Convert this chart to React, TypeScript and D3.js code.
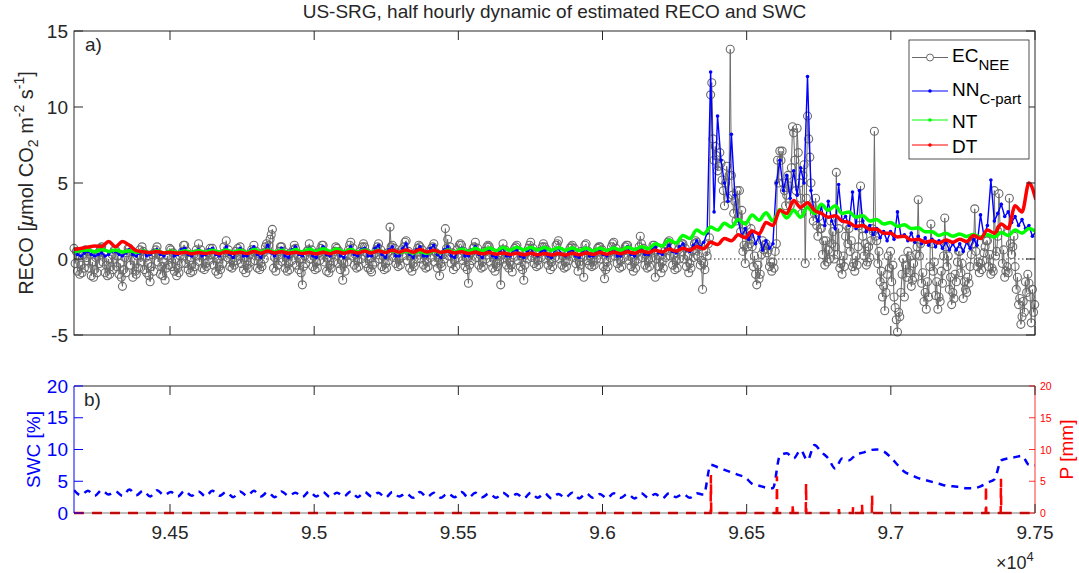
import React from 'react';
import * as d3 from 'd3';

// ---------------------------------------------------------------------------
// Time axis: half-hour record index
const T_START = 94167;
const T_END = 97500;
const EC_STEP = 4;   // EC samples every 4 half-hours
const NN_STEP = 12;  // NN samples every 12 half-hours
const DAY_STEP = 24; // NT, DT and SWC every 24 half-hours

const TIME_TICKS = [94500, 95000, 95500, 96000, 96500, 97000, 97500];
const TIME_TICK_LABELS = ['9.45', '9.5', '9.55', '9.6', '9.65', '9.7', '9.75'];
const RECO_TICKS = [-5, 0, 5, 10, 15];
const SWC_TICKS = [0, 5, 10, 15, 20];
const P_TICKS = [0, 5, 10, 15, 20];

// EC-derived RECO (umol CO2 m-2 s-1), twelve samples per day
const EC_NEE = [
  0.7, -0.3, 0.5, -0.8, 0.2, -1.0, -0.4, -0.9, 0.3, -0.6, 0.6, 0.1,
  0.5, -0.6, 0.3, -1.1, -0.2, -1.2, -0.7, 0.1, -0.9, 0.4, -0.3, 0.7,
  0.8, -0.2, 0.4, -0.9, -0.4, -1.1, 0.0, -1.0, -0.5, 0.3, -0.7, 0.6,
  0.6, -0.5, 0.2, -1.0, -0.3, -1.2, -1.8, -0.7, 0.1, -0.9, 0.4, 0.7,
  0.7, -0.4, 0.5, -1.2, -0.1, -0.8, -1.0, 0.2, -0.6, 0.6, -0.2, 0.8,
  0.5, -0.7, 0.1, -0.9, -0.3, -1.1, -1.5, -0.5, 0.3, -0.8, 0.4, 0.6,
  0.8, -0.2, 0.3, -1.0, -0.5, -1.1, -0.2, -1.4, -0.6, 0.2, -0.4, 0.7,
  0.6, -0.5, 0.4, -0.8, 0.0, -1.1, -0.6, -0.9, 0.2, -0.3, 0.5, 0.9,
  0.9, -0.3, 0.5, -0.7, -0.1, -0.9, -0.4, -0.8, 0.3, -0.5, 0.6, 0.2,
  1.0, -0.2, 0.6, -0.6, 0.2, -0.7, -0.3, -0.5, 0.4, -0.1, 0.7, 0.3,
  0.7, -0.4, 0.3, -0.8, 0.0, -1.0, -0.5, -0.7, 0.2, -0.3, 0.8, 0.4,
  1.2, 0.1, 0.6, -0.5, 0.3, -0.6, -0.2, -0.4, 0.5, -0.1, 0.7, 0.2,
  0.8, -0.3, 0.4, -0.7, 0.1, -0.9, -0.4, -0.6, 0.3, -0.2, 0.6, 0.5,
  0.9, -0.1, 0.5, -0.6, 0.2, -0.7, -0.3, -0.5, 0.4, 0.0, 0.8, 1.0,
  0.6, 0.9, 1.3, 1.6, 1.95, -0.6, 0.1, -0.8, 0.3, -0.4, 0.5, 0.8,
  0.8, -0.2, 0.5, -0.6, 0.1, -0.8, -0.3, -0.7, 0.4, -0.1, 0.6, 0.9,
  0.7, -0.4, 0.3, -0.7, 0.0, -0.9, -1.7, -0.5, 0.2, -0.3, 0.5, 0.6,
  1.0, 0.0, 0.6, -0.5, 0.2, -0.7, -0.2, -0.6, 0.4, -0.1, 0.7, 0.9,
  0.9, -0.2, 0.4, -0.8, 0.1, -0.9, -0.4, -0.6, 0.3, -0.2, 0.5, 0.8,
  0.7, -0.3, 0.5, -0.7, -0.1, -1.4, -0.3, -0.8, 0.2, -0.2, 0.6, 0.9,
  1.1, 0.2, 0.7, -0.4, 0.3, -0.6, -0.1, -0.5, 0.5, 0.0, 0.8, 1.0,
  0.8, -0.3, 0.4, -0.6, 0.0, -0.7, -0.85, -0.4, 0.3, -0.2, 0.6, 0.8,
  1.0, 0.0, 0.6, -0.5, 0.2, -0.7, -0.3, -0.6, 0.4, -0.1, 2.1, 0.8,
  0.9, 0.1, 0.7, -0.3, 0.4, -0.5, 0.0, -0.4, 0.6, 0.2, 0.8, 1.1,
  1.2, -0.1, 0.5, -0.6, 0.2, -0.8, -0.3, -0.5, 0.4, 0.0, 0.7, 0.9,
  0.8, 0.0, 0.6, -0.4, 0.3, -0.6, -0.2, -0.5, 0.5, 0.1, 0.7, 0.8,
  1.0, -0.2, 0.4, -0.6, 0.1, -1.1, -0.3, -0.5, 0.3, 0.0, 2.0, 0.7,
  1.3, 0.2, 0.8, -0.3, 0.4, -0.7, -0.1, -0.5, 0.6, 0.1, 0.9, 1.0,
  0.9, -0.1, 0.5, -0.5, 0.1, -0.7, -1.6, -0.4, 0.4, -0.1, 0.7, 0.8,
  1.1, 0.1, 0.7, -0.4, 0.3, -0.6, -0.2, -0.5, 0.5, 0.0, 0.8, 0.9,
  0.8, -0.2, 0.5, -0.6, 0.1, -0.8, -0.3, -0.5, 0.3, -0.1, -1.7, 0.6,
  1.0, 0.0, 0.6, -0.4, 0.2, -0.6, -0.2, -0.4, -0.85, 0.1, 0.7, 0.8,
  0.9, -0.1, 0.5, -0.5, 0.2, -0.7, -1.4, -0.4, 0.4, 0.0, 0.7, 0.9,
  1.1, 0.1, 0.7, -0.3, 0.3, -0.5, -0.1, -0.4, 0.5, 0.1, 0.8, 1.0,
  0.8, 0.0, 0.6, -0.4, 0.2, -0.7, -0.2, -0.5, 0.4, 0.1, 0.9, 1.0,
  1.2, 0.0, 0.5, -0.4, 0.2, -0.6, -0.2, -0.5, 0.3, -0.1, 0.7, 0.8,
  0.9, 0.1, 0.7, -0.3, 0.3, -0.8, -0.2, -0.4, 0.5, 0.1, -1.2, 0.9,
  1.0, -0.1, 0.5, -0.4, 0.2, -0.5, -0.2, -0.4, 0.4, 0.0, 0.7, 0.8,
  0.8, 0.0, 0.6, -0.5, -1.3, -0.7, -0.2, -0.5, 0.4, 0.1, 0.8, 1.0,
  1.1, 0.2, 0.7, -0.3, 0.3, -0.6, -0.1, -0.5, 0.5, 0.1, 0.8, 0.9,
  0.9, -0.1, 0.5, -0.5, 0.1, -0.8, -0.2, -0.6, 0.4, 0.0, 0.8, 1.5,
  1.0, 0.1, 0.7, -0.4, 0.3, -0.6, -0.1, -0.5, 0.5, 0.1, 0.9, 0.9,
  -1.2, 0.0, 0.6, -0.5, 0.2, -0.9, -0.2, -0.6, 0.5, 0.1, 0.9, 1.1,
  1.2, 0.2, 0.8, -0.4, 0.3, -0.7, -0.1, -0.6, 0.6, 0.0, 0.9, 1.0,
  1.0, 0.0, 0.7, -0.5, 0.2, -0.9, -0.3, -0.6, 0.5, 0.1, 1.0, 1.2,
  1.1, 0.2, 0.8, -0.4, -0.1, -2.0, -0.3, -0.7, 0.5, 0.2, 1.0, 1.4,
  10.8, 11.6, 7.9, 6.5, 7.4, 6.8, 5.8, 6.1, 7.0, 6.3, 5.2, 4.5,
  3.5, 5.0, 6.1, 4.0, 5.5, 13.8, 5.5, 4.2, 3.0, 3.8, 2.5, 4.5,
  2.8, 4.5, 1.8, 3.2, 0.5, 0.9, -0.3, 2.2, 0.8, 1.5, 1.0, 2.0,
  0.8, -0.5, 0.2, -1.0, -1.7, -0.4, -1.3, -1.0, 0.3, 1.2, 0.6, 0.9,
  1.0, 0.4, 0.6, -0.5, -0.2, -0.8, -0.2, -0.6, 0.5, 1.0, 6.5, 5.0,
  7.1, 6.5, 7.1, 5.0, 4.5, 3.5, 4.2, 5.5, 4.8, 3.5, 6.0, 8.7,
  8.3, 6.5, 4.5, 8.6, 7.0, 5.0, 4.0, 3.0, 5.5, 6.2, -0.3, 4.0,
  9.4, 7.9, 6.7, 5.0, 3.5, 2.5, 3.0, 4.0, 2.2, 1.5, 2.8, 2.0,
  2.0, 0.3, 1.2, -0.4, 1.2, -0.2, 0.6, 0.0, 2.5, 1.0, 1.8, 0.0,
  0.8, 5.7, 0.3, 2.0, -0.6, -0.3, -1.0, 0.2, -0.5, 1.5, 2.2, 1.0,
  2.0, 0.5, 1.2, -0.5, -0.3, -0.8, 0.2, -0.4, 0.8, 2.2, 4.8, 2.0,
  1.5, 0.2, 1.0, -0.4, -0.2, 0.8, 0.1, 1.2, 2.0, 1.8, 8.4, 1.5,
  1.2, -0.3, 0.5, -1.5, -0.8, -2.5, -1.8, -3.4, -2.2, -1.0, 0.2, -0.6,
  0.5, -1.5, -0.4, -2.5, -3.2, -4.0, -4.8, -3.5, -3.8, -2.2, -1.0, 0.0,
  -2.5, -0.4, -1.2, 0.5, -0.9, 0.2, -1.8, -1.4, -0.3, -1.2, 0.3, 0.8,
  3.9, 0.2, 1.0, -1.6, -0.9, -2.8, -2.2, -3.3, -1.5, -2.5, -0.5, 2.3,
  1.0, -0.8, -0.2, -2.4, -1.5, -3.3, -2.5, -2.8, -0.8, -1.6, 0.2, 2.7,
  0.8, -0.5, 0.2, -2.0, -1.2, -3.0, -2.2, -2.6, -1.0, -1.5, -0.2, 0.5,
  0.5, -0.9, -0.3, -2.6, -1.5, -2.0, -2.2, -1.2, -1.6, -0.5, 0.3, 1.0,
  1.0, 3.3, 0.5, -0.5, -0.2, -0.9, -0.3, -0.7, -0.1, 0.4, 0.8, 1.2,
  1.2, -0.5, 0.3, -1.0, -0.6, -0.8, 4.5, 0.2, 0.5, 1.5, 4.3, 2.0,
  2.0, -0.3, 0.6, -1.2, -0.8, -0.5, -0.9, 4.0, 1.0, 0.3, 0.8, 1.5,
  -0.5, -2.0, -1.2, -3.0, -2.6, -4.3, -3.8, -2.8, -3.5, -1.5, -2.2, -1.0,
  -1.6, -2.5, -4.2, -2.0, -3.5, -3.0, -2.8, -3.5, -2.0, -1.5, -1.0, -0.5,
];

// NN (C-partitioned) RECO, four samples per day
const NN_CPART = [
  0.5, 0.3, 0.2, 0.4, 0.5, 0.3, 0.2, 0.3, 0.4, 0.2, 0.3, 0.5,
  0.5, 0.3, 0.2, 0.4, 0.6, 0.3, 0.2, 0.4, 0.5, 0.2, 0.3, 0.5,
  0.6, 0.3, 0.2, 0.4, 0.5, 0.2, 0.3, 0.6, 0.7, 0.3, 0.2, 0.5,
  0.6, 0.2, 0.3, 0.6, 0.7, 0.3, 0.2, 0.5, 0.8, 0.3, 0.1, 0.5,
  0.7, 0.2, 0.2, 0.6, 0.8, 0.3, 0.1, 0.5, 0.9, 0.4, 0.2, 0.5,
  0.7, 0.2, 0.1, 0.6, 0.8, 0.3, 0.2, 0.5, 0.7, 0.2, 0.1, 0.6,
  0.8, 0.3, 0.2, 0.5, 0.6, 0.2, 0.1, 0.5, 0.8, 0.3, 0.2, 0.6,
  0.7, 0.2, 0.2, 0.7, 0.9, 0.3, 0.1, 0.6, 0.8, 0.2, 0.2, 0.7,
  1.0, 0.3, 0.1, 0.6, 0.8, 0.2, 0.2, 0.7, 0.9, 0.3, 0.1, 0.6,
  0.8, 0.2, 0.1, 0.5, 0.7, 0.2, 0.2, 0.6, 0.8, 0.3, 0.1, 0.5,
  0.6, 0.2, 0.1, 0.5, 0.7, 0.2, 0.2, 0.6, 0.6, 0.2, 0.1, 0.5,
  0.7, 0.3, 0.2, 0.5, 0.6, 0.2, 0.1, 0.6, 0.7, 0.3, 0.2, 0.5,
  0.6, 0.2, 0.1, 0.5, 0.7, 0.2, 0.2, 0.6, 0.6, 0.3, 0.2, 0.5,
  0.7, 0.2, 0.2, 0.6, 0.8, 0.3, 0.2, 0.6, 0.7, 0.3, 0.3, 0.7,
  0.8, 0.4, 0.3, 0.6, 0.9, 0.5, 0.4, 0.8, 1.0, 0.6, 0.5, 0.9,
  1.2, 0.8, 1.1, 1.7,
  12.3, 3.1, 9.4, 6.5, 5.0, 3.8, 8.2, 4.2, 2.5, 1.5, 2.0, 1.3,
  1.8, 1.0, 1.5, 0.6, 1.2, 0.7, 1.0, 5.0, 6.5, 4.5, 5.5, 4.0,
  5.8, 4.2, 6.0, 5.0, 12.0, 4.5, 3.0, 2.5, 3.5, 2.2, 3.8, 2.5,
  2.0, 4.9, 2.5, 2.8, 2.2, 4.4, 2.0, 4.5, 2.5, 1.8, 2.2, 1.6,
  2.0, 1.4, 1.8, 1.2, 1.8, 1.3, 3.1, 1.5, 1.6, 1.2, 1.7, 1.1,
  1.5, 1.0, 1.4, 0.9, 1.3, 0.8, 1.2, 0.7, 1.1, 0.6, 1.0, 0.6,
  1.0, 0.5, 1.1, 0.7, 1.3, 0.9, 2.9, 1.5, 2.2, 5.2, 2.5, 3.0,
  3.6, 2.8, 3.1, 2.4, 2.8, 2.2, 2.6, 2.0, 2.2, 1.5, 1.8, 1.6,
];

// Night-time (NT) partitioning, two samples per day
const NT = [
  0.45, 0.55, 0.60, 0.48, 0.62, 0.50, 0.60, 0.46, 0.55, 0.44,
  0.52, 0.42, 0.55, 0.40, 0.52, 0.42, 0.55, 0.44, 0.55, 0.45,
  0.58, 0.46, 0.60, 0.45, 0.58, 0.44, 0.62, 0.48, 0.60, 0.46,
  0.58, 0.44, 0.62, 0.47, 0.65, 0.50, 0.68, 0.50, 0.65, 0.48,
  0.62, 0.46, 0.60, 0.45, 0.58, 0.44, 0.55, 0.42, 0.52, 0.40,
  0.50, 0.38, 0.55, 0.40, 0.60, 0.45, 0.65, 0.50, 0.70, 0.52,
  0.72, 0.55, 0.75, 0.58, 0.78, 0.60, 0.76, 0.60, 0.75, 0.58,
  0.74, 0.58, 0.72, 0.56, 0.70, 0.55, 0.70, 0.56, 0.72, 0.58,
  0.78, 0.62, 0.80, 0.68, 1.00, 0.85, 1.25, 1.05, 1.55, 1.35,
  1.90, 1.65, 2.10, 1.90, 2.35, 2.10, 2.60, 2.30, 2.90, 2.55,
  3.05, 2.50, 3.25, 2.70, 3.20, 2.75, 3.40, 3.00, 3.60, 3.20,
  3.50, 3.00, 3.10, 2.75, 2.85, 2.50, 2.60, 2.30, 2.40, 2.15,
  2.25, 2.00, 2.05, 1.80, 1.80, 1.55, 1.70, 1.50, 1.65, 1.48,
  1.62, 1.45, 1.60, 1.45, 1.75, 1.55, 1.90, 1.70, 2.00, 1.80,
];

// Day-time (DT) partitioning, two samples per day
const DT = [
  0.62, 0.70, 0.78, 0.85, 0.82, 1.15, 0.80, 1.15, 0.90, 0.55,
  0.48, 0.42, 0.50, 0.40, 0.45, 0.38, 0.45, 0.35, 0.42, 0.36,
  0.45, 0.35, 0.48, 0.38, 0.45, 0.36, 0.50, 0.38, 0.52, 0.40,
  0.48, 0.38, 0.45, 0.36, 0.42, 0.34, 0.45, 0.35, 0.48, 0.38,
  0.50, 0.40, 0.52, 0.40, 0.55, 0.42, 0.58, 0.45, 0.60, 0.45,
  0.62, 0.46, 0.58, 0.44, 0.52, 0.40, 0.48, 0.36, 0.45, 0.34,
  0.42, 0.32, 0.40, 0.30, 0.38, 0.28, 0.38, 0.28, 0.36, 0.27,
  0.36, 0.27, 0.38, 0.28, 0.40, 0.30, 0.42, 0.32, 0.45, 0.35,
  0.48, 0.38, 0.52, 0.42, 0.58, 0.46, 0.65, 0.52, 0.70, 0.58,
  0.80, 0.68, 1.10, 0.95, 1.35, 1.20, 1.60, 1.40, 1.85, 1.65,
  2.40, 2.20, 3.20, 3.00, 3.85, 3.40, 3.70, 3.20, 3.00, 2.75,
  2.85, 2.50, 2.40, 2.15, 2.20, 1.95, 1.95, 1.70, 1.70, 1.45,
  1.50, 1.25, 1.30, 1.10, 1.20, 1.05, 1.25, 1.10, 1.30, 1.15,
  1.55, 1.35, 1.90, 1.70, 2.30, 2.00, 3.50, 3.10, 5.00, 3.90,
];

// Soil water content (%), two samples per day
const SWC = [
  3.6, 2.8, 3.5, 2.7, 3.6, 2.9, 3.4, 2.7, 3.7, 2.8,
  3.5, 2.6, 3.6, 2.8, 3.3, 2.6, 3.5, 2.7, 3.4, 2.6,
  3.5, 2.7, 3.3, 2.5, 3.4, 2.7, 3.5, 2.6, 3.3, 2.5,
  3.4, 2.7, 3.2, 2.5, 3.4, 2.6, 3.3, 2.5, 3.2, 2.6,
  3.4, 2.5, 3.3, 2.6, 3.2, 2.4, 3.3, 2.6, 3.1, 2.4,
  3.3, 2.5, 3.2, 2.4, 3.1, 2.5, 3.3, 2.4, 3.2, 2.5,
  3.1, 2.4, 3.2, 2.5, 3.0, 2.3, 3.2, 2.4, 3.1, 2.3,
  3.0, 2.4, 3.2, 2.3, 3.1, 2.4, 3.0, 2.3, 3.1, 2.4,
  3.0, 2.3, 3.1, 2.4, 3.0, 2.3, 3.1, 2.5, 3.0, 2.4,
  3.1, 2.9, 7.6, 7.2, 6.8, 6.4, 6.0, 5.6, 4.6, 4.3,
  4.0, 3.9, 9.0, 9.4, 8.6, 9.9, 8.3, 10.7, 9.6, 8.6,
  7.0, 8.6, 8.3, 9.2, 9.5, 9.9, 10.0, 9.7, 8.8, 7.6,
  6.5, 6.0, 5.5, 5.2, 4.9, 4.6, 4.3, 4.2, 4.1, 3.9,
  3.9, 4.2, 4.8, 5.3, 8.3, 8.6, 8.8, 9.0, 7.6, 7.5,
];

// Precipitation events (half-hour index, mm)
const P_TIME = [96376, 96605, 96660, 96706, 96820, 96869, 96900, 96935, 97330, 97382];
const P_MM = [6.0, 5.8, 1.5, 4.7, 0.6, 1.0, 1.5, 2.8, 4.4, 5.4];

// ---------------------------------------------------------------------------
const FONT = "'Liberation Sans', Arial, Helvetica, sans-serif";
const AXIS = '#262626';
const GRAY = '#6a6a6a';
const BLUE = '#0000ff';
const GREEN = '#00ff00';
const RED = '#ff0000';

type Pt = [number, number];
const toSeries = (vals: number[], step: number): Pt[] =>
  vals.map((v, i) => [T_START + i * step, v] as Pt);

export default function App() {
  const W = 1079;
  const H = 573;
  const L = 74;
  const R = 1035;
  const aTop = 31;
  const aBot = 335;
  const bTop = 386;
  const bBot = 513;
  const TICK = 9;

  const x = d3.scaleLinear().domain([T_START, T_END]).range([L, R]);
  const yA = d3.scaleLinear().domain([-5, 15]).range([aBot, aTop]);
  const yS = d3.scaleLinear().domain([0, 20]).range([bBot, bTop]);
  const yP = d3.scaleLinear().domain([0, 20]).range([bBot, bTop]);

  const ec = toSeries(EC_NEE, EC_STEP);
  const nn = toSeries(NN_CPART, NN_STEP);
  const nt = toSeries(NT, DAY_STEP);
  const dt = toSeries(DT, DAY_STEP);
  const swc = toSeries(SWC, DAY_STEP);

  // precipitation as a zero baseline with single half-hour pulses
  const pSeries: Pt[] = [[T_START, 0]];
  P_TIME.forEach((t, i) => {
    pSeries.push([t - 1, 0], [t, P_MM[i]], [t + 1, 0]);
  });
  pSeries.push([T_END, 0]);

  const inView = (d: Pt) => d[0] >= T_START && d[0] <= T_END;

  const lineA = d3.line<Pt>().x((d) => x(d[0])).y((d) => yA(d[1]));
  const smoothA = d3
    .line<Pt>()
    .x((d) => x(d[0]))
    .y((d) => yA(d[1]))
    .curve(d3.curveMonotoneX);
  const lineSWC = d3
    .line<Pt>()
    .x((d) => x(d[0]))
    .y((d) => yS(d[1]))
    .curve(d3.curveMonotoneX);
  const lineP = d3.line<Pt>().x((d) => x(d[0])).y((d) => yP(d[1]));

  const legendItems = [
    { main: 'EC', sub: 'NEE', color: GRAY, y: 57.5, base: 62, circle: true },
    { main: 'NN', sub: 'C-part', color: BLUE, y: 91, base: 96, circle: false },
    { main: 'NT', sub: '', color: GREEN, y: 120, base: 128, circle: false },
    { main: 'DT', sub: '', color: RED, y: 145, base: 153, circle: false },
  ];

  return (
    <svg
      width={W}
      height={H}
      viewBox={`0 0 ${W} ${H}`}
      style={{ position: 'absolute', left: 0, top: 0, background: '#fff' }}
      fontFamily={FONT}
    >
      <defs>
        <clipPath id="clipA">
          <rect x={L} y={aTop} width={R - L} height={aBot - aTop} />
        </clipPath>
        <clipPath id="clipB">
          <rect x={L} y={bTop - 2} width={R - L} height={bBot - bTop + 4} />
        </clipPath>
      </defs>
      <rect x={0} y={0} width={W} height={H} fill="#fff" />

      {/* title */}
      <text x={(L + R) / 2} y={18} textAnchor="middle" fontSize={19} fill={AXIS}>
        US-SRG, half hourly dynamic of estimated RECO and SWC
      </text>

      {/* ---------------- panel a ---------------- */}
      <line
        x1={L}
        x2={R}
        y1={yA(0)}
        y2={yA(0)}
        stroke="#333"
        strokeWidth={1}
        strokeDasharray="1.5,2.5"
      />
      <g clipPath="url(#clipA)">
        <path d={lineA(ec) || ''} fill="none" stroke={GRAY} strokeWidth={1} />
      </g>
      {ec.filter(inView).map((d, i) => (
        <circle
          key={`ec${i}`}
          cx={x(d[0])}
          cy={yA(d[1])}
          r={4}
          fill="none"
          stroke={GRAY}
          strokeWidth={1.1}
        />
      ))}
      <g clipPath="url(#clipA)">
        <path d={lineA(nn) || ''} fill="none" stroke={BLUE} strokeWidth={1.4} />
        {nn.filter(inView).map((d, i) => (
          <circle key={`nn${i}`} cx={x(d[0])} cy={yA(d[1])} r={1.8} fill={BLUE} />
        ))}
        <path d={smoothA(nt) || ''} fill="none" stroke={GREEN} strokeWidth={3.5} />
        <path d={smoothA(dt) || ''} fill="none" stroke={RED} strokeWidth={3.5} />
      </g>

      {/* axes of panel a */}
      <rect
        x={L}
        y={aTop}
        width={R - L}
        height={aBot - aTop}
        fill="none"
        stroke={AXIS}
        strokeWidth={1}
      />
      {RECO_TICKS.map((v) => (
        <g key={`ra${v}`}>
          <line x1={L} x2={L + TICK} y1={yA(v)} y2={yA(v)} stroke={AXIS} />
          <line x1={R - TICK} x2={R} y1={yA(v)} y2={yA(v)} stroke={AXIS} />
          <text
            x={L - 6}
            y={yA(v) + 6.5}
            textAnchor="end"
            fontSize={19}
            fill={AXIS}
          >
            {v}
          </text>
        </g>
      ))}
      {TIME_TICKS.map((t) => (
        <g key={`ta${t}`}>
          <line x1={x(t)} x2={x(t)} y1={aTop} y2={aTop + TICK} stroke={AXIS} />
          <line x1={x(t)} x2={x(t)} y1={aBot - TICK} y2={aBot} stroke={AXIS} />
        </g>
      ))}
      <text x={85} y={51} fontSize={19} fill={AXIS}>
        a)
      </text>
      <text
        transform={`translate(33,${(aTop + aBot) / 2}) rotate(-90)`}
        textAnchor="middle"
        fontSize={20}
        fill={AXIS}
      >
        RECO [<tspan fontStyle="italic">μ</tspan>mol CO
        <tspan fontSize={14} dy={5}>
          2
        </tspan>
        <tspan dy={-5}> m</tspan>
        <tspan fontSize={14} dy={-9}>
          -2
        </tspan>
        <tspan dy={9}> s</tspan>
        <tspan fontSize={14} dy={-9}>
          -1
        </tspan>
        <tspan dy={9}>]</tspan>
      </text>

      {/* legend */}
      <rect x={909} y={40} width={120} height={119} fill="#fff" stroke={AXIS} strokeWidth={0.8} />
      {legendItems.map((it) => (
        <g key={it.main}>
          <line x1={912} x2={948} y1={it.y} y2={it.y} stroke={it.color} strokeWidth={1} />
          {it.circle ? (
            <circle cx={930} cy={it.y} r={3.5} fill="#fff" stroke={it.color} strokeWidth={1} />
          ) : (
            <circle cx={930} cy={it.y} r={1.8} fill={it.color} />
          )}
          <text x={952} y={it.base} fontSize={19} fill="#000">
            {it.main}
            {it.sub ? (
              <tspan fontSize={15} dy={8}>
                {it.sub}
              </tspan>
            ) : null}
          </text>
        </g>
      ))}

      {/* ---------------- panel b ---------------- */}
      <g clipPath="url(#clipB)">
        <path
          d={lineSWC(swc) || ''}
          fill="none"
          stroke={BLUE}
          strokeWidth={2.5}
          strokeDasharray="7,6"
        />
        <path
          d={lineP(pSeries) || ''}
          fill="none"
          stroke={RED}
          strokeWidth={2.5}
          strokeDasharray="10,8"
        />
      </g>
      <line x1={L} x2={R} y1={bTop} y2={bTop} stroke={AXIS} />
      <line x1={L} x2={R} y1={bBot} y2={bBot} stroke={AXIS} strokeOpacity={0.6} />
      <line x1={L} x2={L} y1={bTop} y2={bBot} stroke={BLUE} />
      <line x1={R} x2={R} y1={bTop} y2={bBot} stroke={RED} strokeWidth={0.8} />
      {TIME_TICKS.map((t, i) => (
        <g key={`tb${t}`}>
          <line x1={x(t)} x2={x(t)} y1={bTop} y2={bTop + TICK} stroke={AXIS} />
          <line x1={x(t)} x2={x(t)} y1={bBot - TICK} y2={bBot} stroke={AXIS} />
          <text x={x(t)} y={539} textAnchor="middle" fontSize={19} fill={AXIS}>
            {TIME_TICK_LABELS[i]}
          </text>
        </g>
      ))}
      {SWC_TICKS.map((v) => (
        <g key={`sw${v}`}>
          <line x1={L} x2={L + TICK} y1={yS(v)} y2={yS(v)} stroke={BLUE} />
          <text x={L - 6} y={yS(v) + 6.5} textAnchor="end" fontSize={19} fill={BLUE}>
            {v}
          </text>
        </g>
      ))}
      {P_TICKS.map((v) => (
        <g key={`p${v}`}>
          <line x1={R - 6} x2={R} y1={yP(v)} y2={yP(v)} stroke={RED} strokeWidth={0.8} />
          <text x={R + 5} y={yP(v) + 4} fontSize={10.5} fill={RED}>
            {v}
          </text>
        </g>
      ))}
      <text x={84} y={406} fontSize={19} fill={AXIS}>
        b)
      </text>
      <text
        transform={`translate(40,${(bTop + bBot) / 2}) rotate(-90)`}
        textAnchor="middle"
        fontSize={19}
        fill={BLUE}
      >
        SWC [%]
      </text>
      <text
        transform={`translate(1073,${(bTop + bBot) / 2}) rotate(-90)`}
        textAnchor="middle"
        fontSize={19}
        fill={RED}
      >
        P [mm]
      </text>
      <text x={996} y={569} fontSize={18} fill={AXIS}>
        ×10
        <tspan fontSize={13} dy={-8}>
          4
        </tspan>
      </text>
    </svg>
  );
}
